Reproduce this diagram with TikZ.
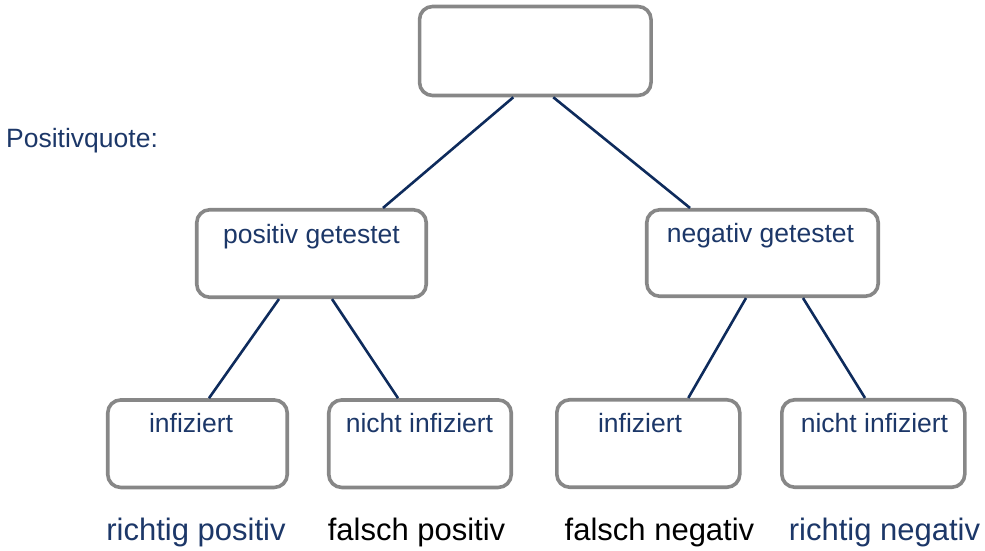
\documentclass[tikz,border=0pt]{standalone}
\usepackage{fontspec}
\setmainfont{Liberation Sans}
\definecolor{kastengrau}{HTML}{878787}
\definecolor{astblau}{HTML}{0E2B5C}
\definecolor{textblau}{HTML}{1C3768}
\begin{document}
\begin{tikzpicture}[x=1pt, y=-1pt,
		kasten/.style={draw=kastengrau, line width=3.6pt, rounded corners=13pt, inner sep=0pt, minimum height=87.5pt},
		ast/.style={draw=astblau, line width=2.6pt},
		beschriftung/.style={text=textblau, anchor=base, inner sep=0pt, font=\fontsize{26.5}{30}\selectfont},
		ergebnis/.style={anchor=base, inner sep=0pt, font=\fontsize{31}{36}\selectfont}]
		% Define the size of the picture
		\useasboundingbox (0, 0) rectangle (985, 551);
		
		% Top box (left empty)
		\node[kasten, minimum width=231.5pt, minimum height=89pt] (wurzel) at (535.3, 51) {};
		
		% Label on the left
		\node[beschriftung, anchor=base west] (quote) at (6, 147) {Positivquote:};
		
		\begin{scope}
			% Boxes of the second level
			\node[kasten, minimum width=229.5pt] (positiv) at (311.5, 253.5) {};
			\node[kasten, minimum width=231.5pt, minimum height=86.5pt] (negativ) at (762.5, 253) {};
			
			% Text inside the boxes
			\node[beschriftung] (positivText) at (311.5, 243) {positiv getestet};
			\node[beschriftung] (negativText) at (760.5, 242) {negativ getestet};
		\end{scope}
		
		\begin{scope}
			% Boxes of the third level
			\node[kasten, minimum width=179.5pt] (infA) at (197.5, 443.7) {};
			\node[kasten, minimum width=182.5pt] (nichtA) at (420, 443.7) {};
			\node[kasten, minimum width=183pt] (infB) at (648.3, 443.5) {};
			\node[kasten, minimum width=183pt] (nichtB) at (873.3, 443.5) {};
			
			% Text inside the boxes
			\node[beschriftung] (infAText) at (191, 432) {infiziert};
			\node[beschriftung] (nichtAText) at (419.5, 432) {nicht infiziert};
			\node[beschriftung] (infBText) at (640, 432) {infiziert};
			\node[beschriftung] (nichtBText) at (874.5, 432.5) {nicht infiziert};
		\end{scope}
		
		% Connecting lines
		\draw[ast] ([xshift=-22pt]wurzel.south) -- ([xshift=71.5pt]positiv.north);
		\draw[ast] ([xshift=18pt]wurzel.south) -- ([xshift=-72.5pt]negativ.north);
		\draw[ast] ([xshift=-32.5pt]positiv.south) -- ([xshift=11.5pt]infA.north);
		\draw[ast] ([xshift=20.5pt]positiv.south) -- ([xshift=-22pt]nichtA.north);
		\draw[ast] ([xshift=-16.5pt]negativ.south) -- ([xshift=40pt]infB.north);
		\draw[ast] ([xshift=40.5pt]negativ.south) -- ([xshift=-8.3pt]nichtB.north);
		
		% Text below the boxes
		\begin{scope}
			\node[ergebnis, text=textblau] (richtigPos) at (196, 540) {richtig positiv};
			\node[ergebnis] (falschPos) at (416.5, 540) {falsch positiv};
			\node[ergebnis] (falschNeg) at (659.5, 540) {falsch negativ};
			\node[ergebnis, text=textblau] (richtigNeg) at (884.5, 540) {richtig negativ};
		\end{scope}
	\end{tikzpicture}
\end{document}
